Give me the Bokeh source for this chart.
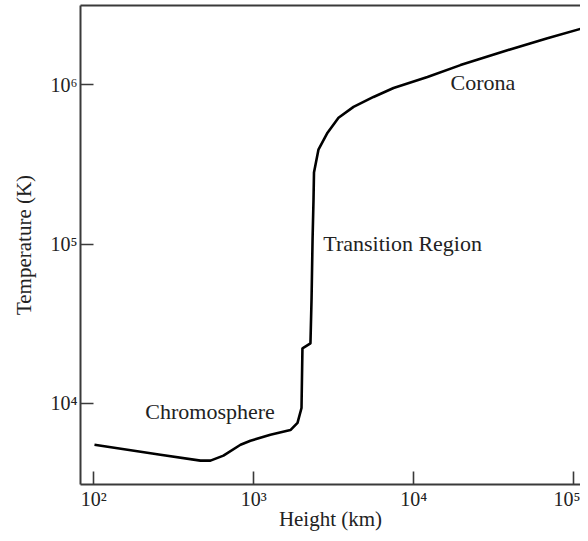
from bokeh.plotting import figure
from bokeh.models import FixedTicker, Range1d, Label, LogAxis
from bokeh.embed import file_html
from bokeh.resources import INLINE

# Data (height in km, temperature in K)
height_km = [101, 261, 464, 536, 646, 826, 953, 1270, 1694, 1876, 1987, 2014,
             2260, 2296, 2330, 2362, 2378, 2535, 2890, 3384, 4200, 5600, 7470,
             12170, 19570, 38450, 68400, 123600]
temperature_k = [5465, 4732, 4340, 4340, 4670, 5465, 5790, 6310, 6760, 7500,
                 9300, 22080, 23700, 45300, 107400, 191000, 282000, 392000,
                 501000, 622000, 729000, 841000, 958000, 1.122e6, 1.334e6,
                 1.655e6, 1.967e6, 2.33e6]

x_ticks = [100, 1000, 10000, 100000]
x_tick_labels = ["10²", "10³", "10⁴", "10⁵"]
y_ticks = [10000, 100000, 1000000]
y_tick_labels = ["10⁴", "10⁵", "10⁶"]

region_names = ["Chromosphere", "Transition Region", "Corona"]
region_x = [210, 2716, 16950]
region_y = [8790, 101000, 1.044e6]

x_title = "Height (km)"
y_title = "Temperature (K)"

FONT = "Liberation Serif"
INK = "#222222"
AXIS = "#3a3a3a"

X_START, X_END = 82.6, 110100
Y_START, Y_END = 3073, 3.162e6

p = figure(width=580, height=533, x_axis_type="log", y_axis_type="log",
           x_range=Range1d(X_START, X_END), y_range=Range1d(Y_START, Y_END),
           output_backend="svg", toolbar_location=None,
           min_border_left=80, min_border_right=0, min_border_top=5,
           min_border_bottom=46)
p.outline_line_color = None
p.xgrid.visible = False
p.ygrid.visible = False
p.background_fill_color = "white"
p.border_fill_color = "white"

p.line(height_km, temperature_k, line_color="black", line_width=2.6)

for ax, ticks, labels in ((p.xaxis[0], x_ticks, x_tick_labels),
                          (p.yaxis[0], y_ticks, y_tick_labels)):
    ax.ticker = FixedTicker(ticks=ticks, minor_ticks=[])
    ax.major_label_overrides = {t: l for t, l in zip(ticks, labels)}
    ax.major_tick_in = 13
    ax.major_tick_out = 0
    ax.major_tick_line_width = 1.6
    ax.major_tick_line_color = AXIS
    ax.minor_tick_line_color = None
    ax.axis_line_width = 2
    ax.axis_line_color = AXIS
    ax.major_label_text_font = FONT
    ax.major_label_text_font_size = "20px"
    ax.major_label_text_color = INK
    ax.axis_label_text_font = FONT
    ax.axis_label_text_font_size = "21px"
    ax.axis_label_text_font_style = "normal"
    ax.axis_label_text_color = INK

p.xaxis.axis_label = x_title
p.xaxis.major_label_standoff = 3
p.xaxis.axis_label_standoff = -6
p.yaxis.axis_label = y_title
p.yaxis.major_label_standoff = 3
p.yaxis.axis_label_standoff = 12
p.yaxis.major_label_orientation = "horizontal"

# top border of the frame: an unlabelled axis above
top = LogAxis(ticker=FixedTicker(ticks=[], minor_ticks=[]),
              axis_line_color=AXIS, axis_line_width=2,
              major_tick_line_color=None, minor_tick_line_color=None,
              major_label_text_font_size="0px", major_label_standoff=0)
p.add_layout(top, "above")

for name, xv, yv in zip(region_names, region_x, region_y):
    p.add_layout(Label(x=xv, y=yv, text=name, text_font=FONT,
                       text_font_size="22px", text_color=INK,
                       text_baseline="middle", text_align="left"))

open("out.html", "w").write(file_html(p, INLINE))
